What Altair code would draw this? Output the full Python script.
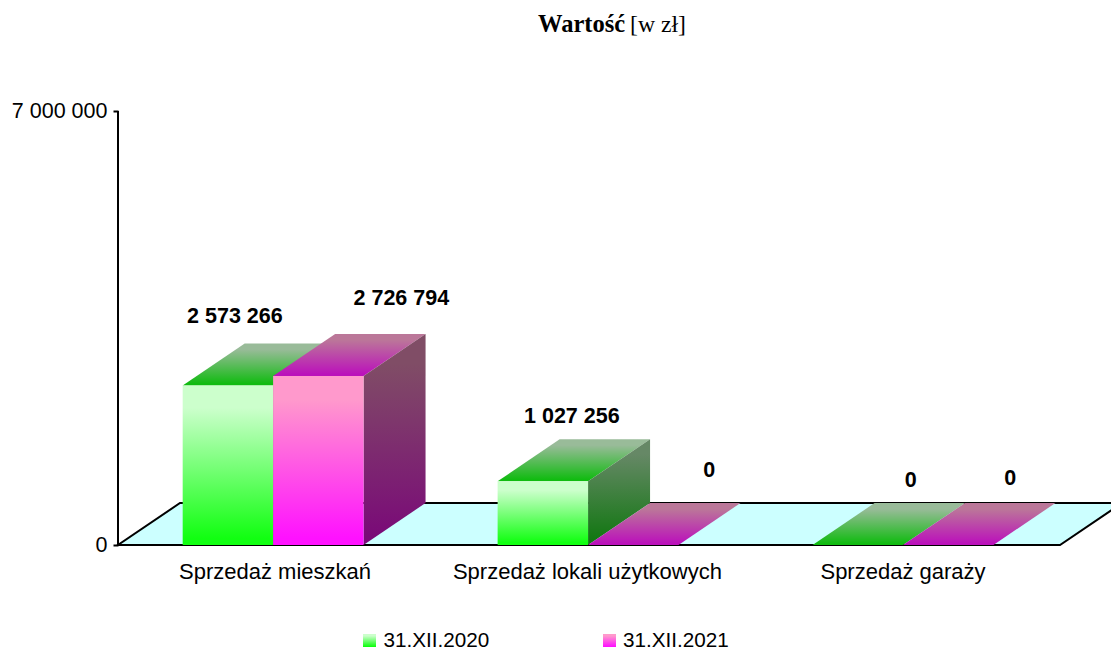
import altair as alt
import pandas as pd

categories = ["Sprzedaż mieszkań", "Sprzedaż lokali użytkowych", "Sprzedaż garaży"]
series_names = ["31.XII.2020", "31.XII.2021"]
values_2020 = [2573266, 1027256, 0]
values_2021 = [2726794, 0, 0]
y_ticks = [0, 7000000]

# ---- layout (pixels inside the chart) ----
W, H = 1103, 642
X0, Y0 = 110, 537       # where category 0 / value 0 fall
CAT_PX = 314
VAL_PX = 62e-6          # pixels per zł
BAR_W = 0.288           # bar width in category units
DX = 62 / CAT_PX        # depth offset in category units
DY = 42 / VAL_PX        # depth offset in zł
group_centres = [0.494, 1.497, 2.5]

x_scale = alt.Scale(domain=[-X0 / CAT_PX, (W - X0) / CAT_PX], nice=False, zero=False)
y_scale = alt.Scale(domain=[(Y0 - H) / VAL_PX, Y0 / VAL_PX], nice=False, zero=False)

y_axis = alt.Axis(
    values=y_ticks, offset=-X0, domain=False, grid=False, title=None,
    tickSize=5, tickWidth=2, tickColor="#000000", labelPadding=6,
    labelFont="Liberation Sans", labelFontSize=21.5, labelColor="#000000",
    labelExpr="replace(format(datum.value, ','), /,/g, ' ')",
)
X_ENC = alt.X("x:Q", scale=x_scale, axis=None)
Y_ENC = alt.Y("y:Q", scale=y_scale, axis=y_axis, stack=None)


def grad(top, bottom):
    return alt.LinearGradient(
        gradient="linear", x1=0, x2=0, y1=0, y2=1,
        stops=[
            alt.GradientStop(color=top, offset=0),
            alt.GradientStop(color=top, offset=0.14),
            alt.GradientStop(color=bottom, offset=0.96),
            alt.GradientStop(color=bottom, offset=1),
        ],
    )


def top_rows(key, x0, x1, v):
    pts = [(x0, v, v), (x0 + DX, v, v + DY), (x1, v, v + DY), (x1 + DX, v + DY, v + DY)]
    return [dict(id=key, x=a, y=b, y2=c) for a, b, c in pts]


def side_rows(key, x1, v):
    return [dict(id=key, x=x1, y=0, y2=v), dict(id=key, x=x1 + DX, y=DY, y2=v + DY)]


def front_rows(key, x0, x1, v):
    return [dict(id=key, x=x0, y=0, y2=v), dict(id=key, x=x1, y=0, y2=v)]


def face(rows, fill, **kw):
    return alt.Chart(pd.DataFrame(rows)).mark_area(color=fill, orient="vertical", **kw).encode(
        x=X_ENC, y=Y_ENC, y2="y2:Q", detail="id:N",
    )


faces = {k: [] for k in ["t0", "s0", "f0", "t1", "s1", "f1"]}
for i in range(len(categories)):
    mid = group_centres[i]
    for s, vals in enumerate([values_2020, values_2021]):
        x0 = mid - BAR_W if s == 0 else mid
        x1 = x0 + BAR_W
        v = vals[i]
        key = f"{i}-{s}"
        faces[f"t{s}"] += top_rows(key, x0, x1, v)
        if v > 0:
            faces[f"s{s}"] += side_rows(key, x1, v)
            faces[f"f{s}"] += front_rows(key, x0, x1, v)

layers = [
    face(top_rows("floor", 0, 3, 0), "#ccffff", stroke="#000000", strokeWidth=2),
    face(faces["t0"], grad("#99bb99", "#11bb11")),
    face(faces["s0"], grad("#668866", "#117711")),
    face(faces["f0"], grad("#ccffcc", "#11ff11")),
    face(faces["t1"], grad("#bb7799", "#bb11bb")),
    face(faces["s1"], grad("#804d66", "#7a0a78")),
    face(faces["f1"], grad("#ff99cc", "#ff11ff")),
]

# value axis line
axis_df = pd.DataFrame({"x": [0], "y": [y_ticks[0]], "y2": [y_ticks[1]]})
layers.append(
    alt.Chart(axis_df).mark_rule(color="#000000", strokeWidth=2).encode(x=X_ENC, y=Y_ENC, y2="y2:Q")
)

# category labels
cat_df = pd.DataFrame({"c": categories, "x": [0.5, 1.495, 2.5], "y": [-27 / VAL_PX] * 3})
layers.append(
    alt.Chart(cat_df).mark_text(font="Liberation Sans", fontSize=22, color="#000000", baseline="middle").encode(
        x=X_ENC, y=Y_ENC, text="c:N",
    )
)

# value labels, placed by hand in the original: offsets from each bar's front-top-centre, px
label_offsets = {(0, 0): (7, 68), (0, 1): (83, 77), (1, 0): (29, 64),
                 (1, 1): (76, 74), (2, 0): (53, 64), (2, 1): (62, 66)}
rows = []
for i in range(len(categories)):
    for s, vals in enumerate([values_2020, values_2021]):
        v = vals[i]
        ox, oy = label_offsets[(i, s)]
        rows.append(dict(
            x=group_centres[i] + (-BAR_W / 2 if s == 0 else BAR_W / 2) + ox / CAT_PX,
            y=v + oy / VAL_PX,
            t=f"{v:,}".replace(",", " "),
        ))
layers.append(
    alt.Chart(pd.DataFrame(rows)).mark_text(
        font="Liberation Sans", fontSize=21.5, fontWeight="bold", color="#000000", baseline="middle"
    ).encode(x=X_ENC, y=Y_ENC, text="t:N")
)

one = pd.DataFrame({"a": [0]})


def fixed_text(text, px, py, **kw):
    return alt.Chart(one).mark_text(align="left", baseline="middle", color="#000000", text=text, **kw).encode(
        x=alt.value(px), y=alt.value(py)
    )


# title
layers.append(fixed_text("Wartość", 530, 17, font="Liberation Serif", fontSize=24.5, fontWeight="bold"))
layers.append(fixed_text("[w zł]", 622, 17, font="Liberation Serif", fontSize=23.7))

# legend
for name, fill, sx, tx in [
    (series_names[0], grad("#ccffcc", "#11ff11"), 355, 375.5),
    (series_names[1], grad("#ff99cc", "#ff11ff"), 595, 615),
]:
    layers.append(
        alt.Chart(one).mark_rect(color=fill).encode(
            x=alt.value(sx), x2=alt.value(sx + 13), y=alt.value(626), y2=alt.value(639)
        )
    )
    layers.append(fixed_text(name, tx, 633, font="Liberation Sans", fontSize=20.7))

chart = (
    alt.layer(*layers)
    .properties(width=W, height=H, padding=0, autosize="none", background="#ffffff")
    .configure_view(stroke=None)
)

chart.save("out.html", embed_options={"renderer": "svg", "actions": False})
